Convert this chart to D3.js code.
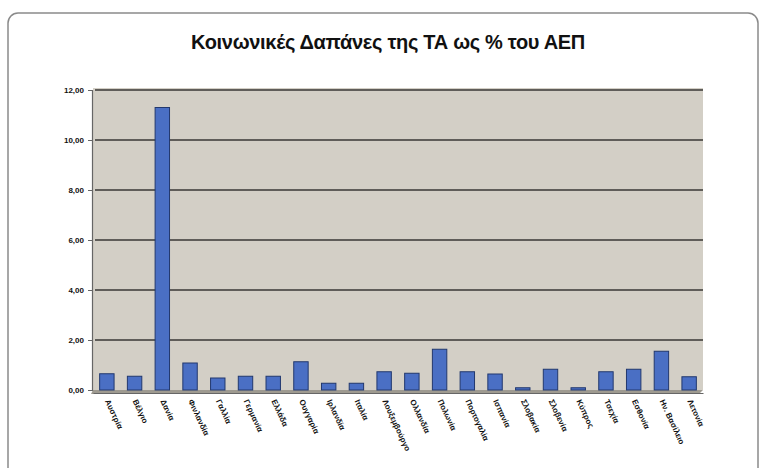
<!DOCTYPE html>
<html>
<head>
<meta charset="utf-8">
<script src="https://cdn.jsdelivr.net/npm/d3@7"></script>
<style>
	body { margin: 0; background: #fff; }
	text { font-family: "Liberation Sans", Arial, sans-serif; }
</style>
</head>
<body>
<div id="chart"></div>
<script>
const titleText = 'Κοινωνικές Δαπάνες της ΤΑ ως % του ΑΕΠ';
const countries = ['Αυστρία', 'Βέλγιο', 'Δανία', 'Φινλανδία', 'Γαλλία', 'Γερμανία', 'Ελλάδα',
	'Ουγγαρία', 'Ιρλανδία', 'Ιταλία', 'Λουξεμβούργο', 'Ολλανδία', 'Πολωνία', 'Πορτογαλία',
	'Ισπανία', 'Σλοβακία', 'Σλοβενία', 'Κύπρος', 'Τσεχία', 'Εσθονία', 'Ην. Βασίλειο', 'Λετονία'];
const values = [0.65, 0.55, 11.3, 1.08, 0.48, 0.55, 0.55, 1.13, 0.27, 0.27, 0.73, 0.67,
	1.63, 0.73, 0.64, 0.09, 0.83, 0.09, 0.73, 0.83, 1.55, 0.53];
const yTicks = [0, 2, 4, 6, 8, 10, 12];

const width = 766;
const height = 468;
const plot = { left: 93, right: 703, top: 90, bottom: 390 };

const svg = d3.select('#chart').append('svg')
	.attr('width', width)
	.attr('height', height);

// chart frame
svg.append('rect')
	.attr('x', 8).attr('y', 13)
	.attr('width', 750).attr('height', 470)
	.attr('rx', 10)
	.style('fill', '#fff')
	.style('stroke', '#8a8a8a')
	.style('stroke-width', 1.5);

svg.append('text')
	.attr('x', 388).attr('y', 49)
	.attr('text-anchor', 'middle')
	.style('font-size', '20px')
	.style('font-weight', 'bold')
	.style('letter-spacing', '-0.3px')
	.style('fill', '#111')
	.text(titleText);

// scales
const x = d3.scaleBand()
	.domain(countries)
	.range([plot.left, plot.right])
	.paddingInner(0.48)
	.paddingOuter(0.24);
const y = d3.scaleLinear()
	.domain([0, 12])
	.range([plot.bottom, plot.top]);

// back wall + floor
svg.append('rect')
	.attr('x', plot.left).attr('y', plot.top - 2)
	.attr('width', plot.right - plot.left)
	.attr('height', plot.bottom - plot.top + 2)
	.style('fill', '#d3cfc6');
svg.append('path')
	.attr('d', `M${plot.left},${plot.bottom} L${plot.right},${plot.bottom} L${plot.right - 4},${plot.bottom + 4} L${plot.left - 2},${plot.bottom + 4} Z`)
	.style('fill', '#9e9a90');

// gridlines
svg.append('g')
	.selectAll('line')
	.data(yTicks.filter(d => d > 0))
	.enter().append('line')
		.attr('x1', plot.left + 2)
		.attr('x2', plot.right)
		.attr('y1', d => y(d))
		.attr('y2', d => y(d))
		.style('stroke', '#5f5d59')
		.style('stroke-width', 1.8);

// y axis
const yAxis = svg.append('g')
	.attr('transform', `translate(${plot.left - 1},0)`)
	.call(d3.axisLeft(y)
		.tickValues(yTicks)
		.tickSize(4)
		.tickFormat(d => d3.format('.2f')(d).replace('.', ',')));
yAxis.select('.domain').style('stroke', '#666').style('stroke-width', 1.2);
yAxis.selectAll('.tick line').style('stroke', '#666');
yAxis.selectAll('.tick text')
	.attr('x', -8)
	.style('font-size', '8px')
	.style('font-weight', 'bold')
	.style('fill', '#111');

// bars
svg.append('g')
	.selectAll('rect')
	.data(values)
	.enter().append('rect')
		.attr('x', (d, i) => x(countries[i]))
		.attr('y', d => y(d))
		.attr('width', x.bandwidth())
		.attr('height', d => y(0) - y(d))
		.style('fill', '#4a6fc4')
		.style('stroke', '#22386e')
		.style('stroke-width', 1);

// x axis
const xAxis = svg.append('g')
	.attr('transform', `translate(0,${plot.bottom + 3})`)
	.call(d3.axisBottom(x).tickSize(0).tickPadding(0));
xAxis.select('.domain').style('stroke', '#666').style('stroke-width', 1.2);
xAxis.selectAll('.tick text')
	.attr('y', 0)
	.attr('dy', 0)
	.attr('transform', 'translate(-2,8) rotate(65)')
	.attr('text-anchor', 'start')
	.style('font-size', '8px')
	.style('font-weight', 'bold')
	.style('fill', '#111');
</script>
</body>
</html>
